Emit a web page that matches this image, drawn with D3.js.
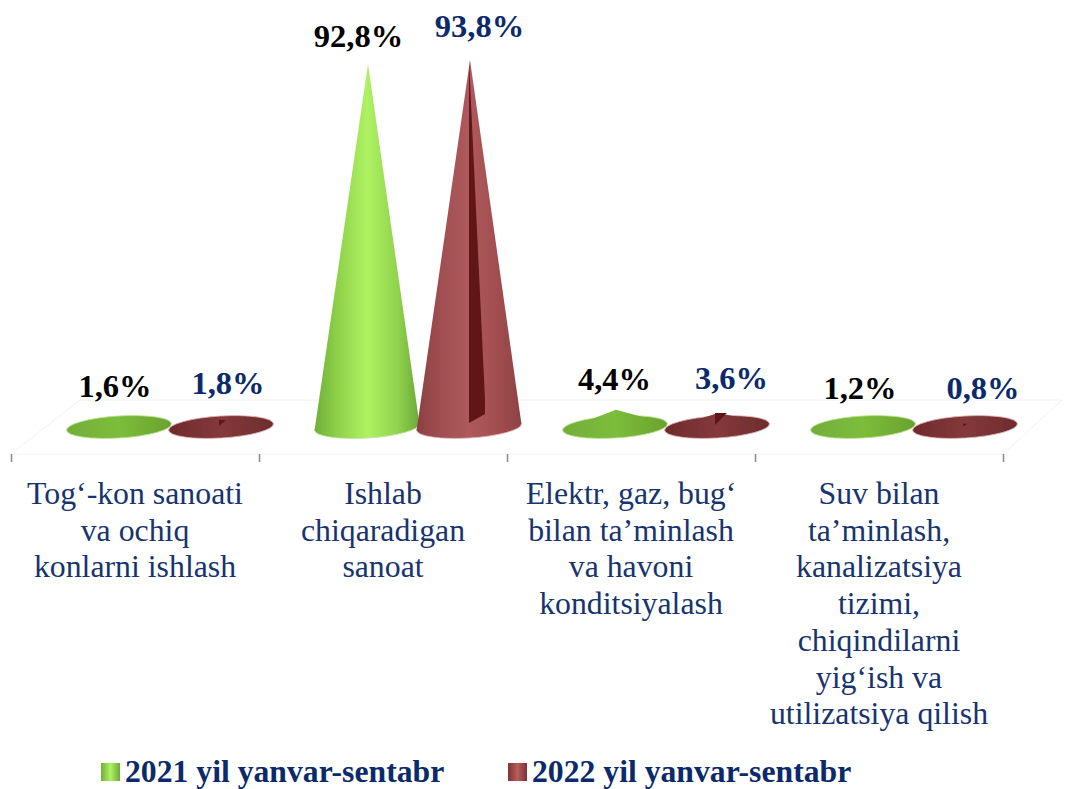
<!DOCTYPE html>
<html><head><meta charset="utf-8">
<script src="https://cdnjs.cloudflare.com/ajax/libs/d3/7.8.5/d3.min.js"></script>
<style>html,body{margin:0;padding:0;background:#fff;overflow:hidden}svg{display:block}text{font-family:"Liberation Serif",serif}</style>
</head><body><svg id="c" width="1067" height="789"></svg>
<script>
const categories = [
  ["Tog‘-kon sanoati","va ochiq","konlarni ishlash"],
  ["Ishlab","chiqaradigan","sanoat"],
  ["Elektr, gaz, bug‘","bilan ta’minlash","va havoni","konditsiyalash"],
  ["Suv bilan","ta’minlash,","kanalizatsiya","tizimi,","chiqindilarni","yig‘ish va","utilizatsiya qilish"]
];
const seriesNames = ["2021 yil yanvar-sentabr","2022 yil yanvar-sentabr"];
const values2021 = [1.6,92.8,4.4,1.2];
const values2022 = [1.8,93.8,3.6,0.8];
const valueLabels2021 = ["1,6%","92,8%","4,4%","1,2%"];
const valueLabels2022 = ["1,8%","93,8%","3,6%","0,8%"];

// layout only
const labelNudge2021 = [[-4,-24],[-8.5,-17],[-0.5,-20],[-3,-23]];
const labelNudge2022 = [[7,-26],[10.5,-23],[14.5,-24],[18,-25]];

const svg = d3.select("#c");
const x = d3.scaleBand().domain(d3.range(4)).range([11,1003]);
const inner = d3.scaleBand().domain([0,1]).range([57,261]);
const y = d3.scaleLinear().domain([0,93.3]).range([427,62]);
const rx = 52.5, ry = 11, tilt = -3.5;
const navy = "#17346f", labelNavy = "#0b2a6b";

const defs = svg.append("defs");
function grad(id, stops){
  const g = defs.append("linearGradient").attr("id",id);
  stops.forEach(([o,c])=>g.append("stop").attr("offset",o).attr("stop-color",c));
}
grad("gTall",[[0,"#6fae3a"],[.2,"#8ccf48"],[.5,"#aef263"],[.8,"#8fd24c"],[1,"#6ba838"]]);
grad("rTall",[[0,"#8a4042"],[.22,"#a04e50"],[.5,"#ae5a5c"],[.8,"#a04c4e"],[1,"#8c4244"]]);
grad("gFlat",[[0,"#74ad3a"],[.5,"#7cbd3a"],[1,"#6aa12f"]]);
grad("rFlat",[[0,"#6f2a2c"],[.5,"#84393b"],[1,"#6e2c2e"]]);
const sw = defs.append("filter").attr("id","soft").attr("x","-5%").attr("y","-5%").attr("width","110%").attr("height","110%");
sw.append("feGaussianBlur").attr("stdDeviation",.6);
grad("gSw",[[0,"#6fae3a"],[.5,"#aef263"],[1,"#6ba838"]]);
grad("rSw",[[0,"#7c3436"],[.5,"#b65c5e"],[1,"#7c3436"]]);

// floor
const floorFront = y(0)+27, floorBack = y(0)-27;
const floor = svg.append("g").attr("fill","none").attr("stroke","#f1f3f1").attr("stroke-width",1);
floor.append("path").attr("d",`M${x.range()[0]},${floorFront}L${x.range()[1]},${floorFront}L1062,${floorBack}L80,${floorBack}Z`);

// category axis
const axis = d3.axisBottom(d3.scaleLinear().domain([0,4]).range(x.range())).ticks(4).tickSize(8).tickFormat("");
const ax = svg.append("g").attr("transform",`translate(0,${floorFront})`).call(axis);
ax.select(".domain").remove();
ax.selectAll("line").attr("stroke","#8a8a8a").attr("stroke-width",1.5);

// cones
const series = [
  {vals:values2021, labels:valueLabels2021, nudge:labelNudge2021, tall:"url(#gTall)", flat:"url(#gFlat)", edge:"#b9e58c", color:"#000", slit:false},
  {vals:values2022, labels:valueLabels2022, nudge:labelNudge2022, tall:"url(#rTall)", flat:"url(#rFlat)", edge:"#e3b4b6", color:labelNavy, slit:true}
];
series.forEach((s,si)=>{
  const g = svg.append("g");
  s.vals.forEach((v,i)=>{
    const cx = x(i)+inner(si)+inner.bandwidth()/2;
    const tall = v>50;
    const fill = tall ? s.tall : s.flat;
    const tipY = y(v), h = y(0)-tipY;
    const cone = g.append("g").attr("filter","url(#soft)");
    cone.append("ellipse").attr("cx",cx).attr("cy",y(0)).attr("rx",rx).attr("ry",ry)
      .attr("transform",`rotate(${tilt} ${cx} ${y(0)})`).attr("fill",fill).attr("stroke",s.edge).attr("stroke-width",.8);
    const a = tilt*Math.PI/180;
    const lx = cx-rx*Math.cos(a), ly = y(0)-rx*Math.sin(a), rxp = cx+rx*Math.cos(a), ryp = y(0)+rx*Math.sin(a);
    if (h > ry) {
      cone.append("path").attr("d",`M${lx},${ly}L${cx+1},${tipY}L${rxp},${ryp}Z`).attr("fill",fill);
    }
    if (s.slit) {
      const d = tall
        ? `M${cx},${tipY+1}L${cx+16},${y(0)-27}L${cx+16},${y(0)-13}L${cx},${y(0)-4}Z`
        : `M${cx-2},${tipY}L${cx+h*.7},${tipY}L${cx-2},${tipY+h*.85}Z`;
      cone.append("path").attr("d",d).attr("fill","#5e1416");
    }
    g.append("text").attr("x",cx+s.nudge[i][0]).attr("y",tipY+s.nudge[i][1]).attr("text-anchor","middle")
      .attr("font-size",32.5).attr("font-weight","bold").attr("fill",s.color).text(s.labels[i]);
  });
});

// category labels
categories.forEach((lines,i)=>{
  const t = svg.append("text").attr("text-anchor","middle").attr("font-size",31.8).attr("fill",navy);
  lines.forEach((l,j)=>t.append("tspan").attr("x",x(i)+x.bandwidth()/2).attr("y",504+j*36.7).text(l));
});

// legend
const legendX = d3.scaleOrdinal().domain([0,1]).range([101,508]);
seriesNames.forEach((n,i)=>{
  const g = svg.append("g").attr("transform",`translate(${legendX(i)},0)`);
  g.append("rect").attr("x",0).attr("y",763).attr("width",19).attr("height",18).attr("fill",i?"url(#rSw)":"url(#gSw)").attr("filter","url(#soft)");
  g.append("text").attr("x",24).attr("y",782).attr("font-size",31.7).attr("font-weight","bold").attr("fill","#0b2a6b").text(n);
});
</script></body></html>
